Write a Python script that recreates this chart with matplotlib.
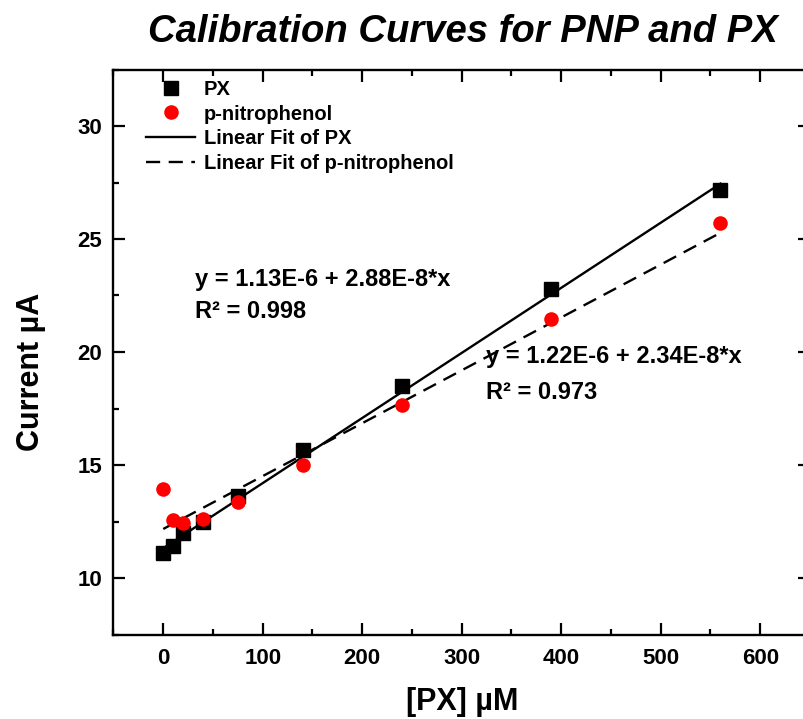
import matplotlib
matplotlib.use("Agg")
import matplotlib.pyplot as plt
import numpy as np
from matplotlib.ticker import MultipleLocator

plt.rcParams['font.family'] = ['Liberation Sans', 'DejaVu Sans']
plt.rcParams['font.weight'] = 'bold'

# Data
px_conc = [0, 10, 20, 40, 75, 140, 240, 390, 560]
px_current = [11.12, 11.42, 12.0, 12.47, 13.63, 15.66, 18.5, 22.79, 27.19]
pnp_conc = [0, 10, 20, 40, 75, 140, 240, 390, 560]
pnp_current = [13.92, 12.57, 12.45, 12.6, 13.35, 15.0, 17.65, 21.46, 25.7]

# Linear fit parameters (plot units)
px_fit_intercept, px_fit_slope = 11.32, 0.0288
pnp_fit_intercept, pnp_fit_slope = 12.17, 0.0234
fit_range = [0, 560]

eq_px = ["y = 1.13E-6 + 2.88E-8*x", "R\u00b2 = 0.998"]
eq_pnp = ["y = 1.22E-6 + 2.34E-8*x", "R\u00b2 = 0.973"]

W, H = 804, 719
fig = plt.figure(figsize=(W / 100, H / 100), dpi=100)
ax = fig.add_axes([113.5 / W, 84.5 / H, (810 - 113.5) / W, (634.5 - 69.5) / H])

fx = np.array(fit_range, dtype=float)
ax.plot(fx, px_fit_intercept + px_fit_slope * fx, color='black', lw=1.7,
        label='Linear Fit of PX', zorder=2)
ax.plot(fx, pnp_fit_intercept + pnp_fit_slope * fx, color='black', lw=1.7,
        dashes=(6, 3.6), label='Linear Fit of p-nitrophenol', zorder=2)
ax.plot(px_conc, px_current, 's', color='black', ms=9.5, label='PX', zorder=3)
ax.plot(pnp_conc, pnp_current, 'o', color='#ff0000', ms=10.5, mec='none',
        label='p-nitrophenol', zorder=4)

ax.set_xlim(-50, 650)
ax.set_ylim(7.5, 32.5)
ax.xaxis.set_major_locator(MultipleLocator(100))
ax.xaxis.set_minor_locator(MultipleLocator(50))
ax.yaxis.set_major_locator(MultipleLocator(5))
ax.yaxis.set_minor_locator(MultipleLocator(2.5))
ax.tick_params(which='both', direction='in', top=True, right=True, width=1.6)
ax.tick_params(which='major', length=8.5)
ax.tick_params(which='minor', length=4.5)
ax.tick_params(axis='x', which='major', pad=10, labelsize=16)
ax.tick_params(axis='y', which='major', pad=8, labelsize=16)
for lab in ax.get_xticklabels() + ax.get_yticklabels():
    lab.set_fontweight('bold')
for sp in ax.spines.values():
    sp.set_linewidth(1.7)

ax.set_xlabel('[PX] \u00b5M', fontsize=22, fontweight='bold', labelpad=13)
ax.set_ylabel('Current \u00b5A', fontsize=22, fontweight='bold')
ax.yaxis.set_label_coords((31 - 113.5) / 696.5, (634.5 - 372) / 565)
ax.yaxis.label.set_va('center')

handles, labels = ax.get_legend_handles_labels()
order = [2, 3, 0, 1]
leg = ax.legend([handles[i] for i in order], [labels[i] for i in order],
                loc='upper left', bbox_to_anchor=(0.03, 1.003), frameon=False,
                prop={'size': 14.5, 'weight': 'bold'}, handlelength=2.4,
                handletextpad=0.45, labelspacing=0.28, borderaxespad=0.2)

ax.text(32, 23.19, eq_px[0], fontsize=17, fontweight='bold', va='center', ha='left')
ax.text(32, 21.77, eq_px[1], fontsize=17, fontweight='bold', va='center', ha='left')
ax.text(324, 19.78, eq_pnp[0], fontsize=17, fontweight='bold', va='center', ha='left')
ax.text(324, 18.23, eq_pnp[1], fontsize=17, fontweight='bold', va='center', ha='left')

fig.text(463 / W, 1 - 32 / H, 'Calibration Curves for PNP and PX', fontsize=27.5,
         fontweight='bold', style='italic', ha='center', va='center')

fig.savefig('out.png', dpi=100)
